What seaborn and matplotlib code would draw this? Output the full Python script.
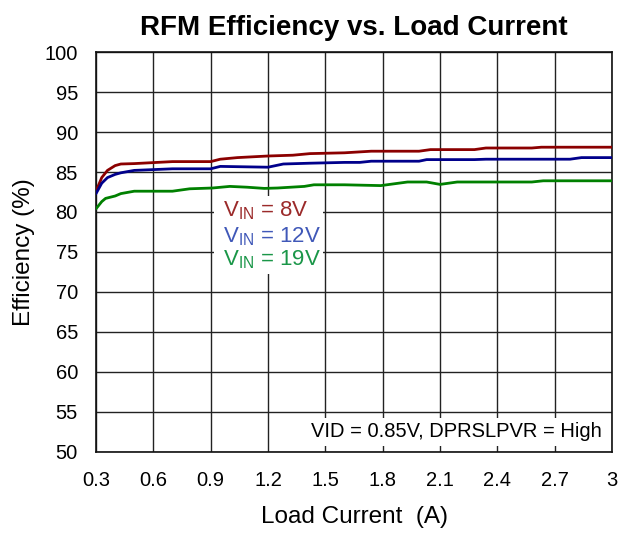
import seaborn as sns
import matplotlib.pyplot as plt
from matplotlib.patches import Rectangle
import pandas as pd

# load current (A) and efficiency (%)
x_8v = [0.30, 0.33, 0.36, 0.40, 0.43, 0.50, 0.70, 0.90, 0.95, 1.04, 1.20, 1.33, 1.42,
        1.60, 1.74, 1.99, 2.05, 2.28, 2.34, 2.58, 2.63, 3.00]
eff_8v = [82.6, 84.3, 85.2, 85.8, 86.0, 86.05, 86.3, 86.3, 86.6, 86.8, 87.0, 87.1, 87.3,
          87.4, 87.6, 87.6, 87.8, 87.8, 88.0, 88.0, 88.1, 88.1]

x_12v = [0.30, 0.33, 0.36, 0.40, 0.43, 0.50, 0.70, 0.90, 0.95, 1.20, 1.28, 1.42, 1.60,
         1.68, 1.74, 1.99, 2.03, 2.28, 2.34, 2.78, 2.84, 3.00]
eff_12v = [82.3, 83.6, 84.3, 84.7, 84.9, 85.2, 85.4, 85.4, 85.7, 85.6, 86.0, 86.1, 86.2,
           86.2, 86.35, 86.35, 86.55, 86.55, 86.6, 86.6, 86.8, 86.8]

x_19v = [0.30, 0.33, 0.35, 0.40, 0.43, 0.50, 0.70, 0.79, 0.91, 1.00, 1.09, 1.18, 1.25,
         1.39, 1.44, 1.60, 1.79, 1.93, 2.03, 2.10, 2.19, 2.58, 2.64, 3.00]
eff_19v = [80.4, 81.3, 81.7, 82.0, 82.3, 82.6, 82.6, 82.9, 83.0, 83.2, 83.1, 82.95, 83.0,
           83.2, 83.4, 83.4, 83.3, 83.75, 83.75, 83.45, 83.75, 83.75, 83.9, 83.9]

series_names = ["8V", "12V", "19V"]
line_colors = ["#8b0000", "#00008b", "#008000"]
text_colors = ["#9b2a2a", "#4058b8", "#1a9648"]

xticks = [0.3, 0.6, 0.9, 1.2, 1.5, 1.8, 2.1, 2.4, 2.7, 3.0]
xtick_labels = ["0.3", "0.6", "0.9", "1.2", "1.5", "1.8", "2.1", "2.4", "2.7", "3"]
yticks = list(range(50, 101, 5))

df = pd.concat([
    pd.DataFrame({"current": x_8v, "eff": eff_8v, "vin": "8V"}),
    pd.DataFrame({"current": x_12v, "eff": eff_12v, "vin": "12V"}),
    pd.DataFrame({"current": x_19v, "eff": eff_19v, "vin": "19V"}),
])

sns.set_theme(style="white")
plt.rcParams["font.family"] = ["Liberation Sans", "DejaVu Sans"]
plt.rcParams["mathtext.fontset"] = "custom"
plt.rcParams["mathtext.rm"] = "Liberation Sans"
for key in ["text.color", "axes.labelcolor", "xtick.color", "ytick.color"]:
    plt.rcParams[key] = "black"

fig = plt.figure(figsize=(6.21, 5.34), dpi=100)
ax = fig.add_axes([0.1546, 0.1536, 0.831, 0.749])

sns.lineplot(data=df, x="current", y="eff", hue="vin", hue_order=series_names,
             palette=line_colors, linewidth=2.0, legend=False, ax=ax, zorder=3)

ax.set_xlim(0.3, 3.0)
ax.set_ylim(50, 100)
ax.set_xticks(xticks)
ax.set_xticklabels(xtick_labels)
ax.set_yticks(yticks)
ax.grid(True, color="#222222", linewidth=1.0)
ax.tick_params(axis="y", direction="out", length=3, width=1, color="#222222",
               labelsize=14.5, pad=10)
ax.tick_params(axis="x", length=0, labelsize=14.5, pad=14)
for s in ax.spines.values():
    s.set_color("#111111")
    s.set_linewidth(1.2)

ax.set_xlabel("Load Current  (A)", fontsize=17.5, labelpad=11)
ax.set_ylabel("Efficiency (%)", fontsize=17.5, labelpad=7)
ax.set_title("RFM Efficiency vs. Load Current", fontsize=20, fontweight="bold",
             pad=12, color="black")

# white panel behind the series labels
ax.add_patch(Rectangle((0.915, 72.2), 0.575, 9.8, facecolor="white", edgecolor="none",
                       zorder=2.5))
label_y = [79.4, 76.2, 73.3]
for name, c, yv in zip(series_names, text_colors, label_y):
    ax.text(0.965, yv, r"V$_{\mathrm{IN}}$ = " + name, color=c, fontsize=16,
            va="baseline", ha="left", zorder=5)

ax.text(2.945, 52.5, "VID = 0.85V, DPRSLPVR = High", fontsize=14.5, ha="right",
        va="center", zorder=5,
        bbox=dict(facecolor="white", edgecolor="none", pad=3))

plt.savefig("out.png", dpi=100)
